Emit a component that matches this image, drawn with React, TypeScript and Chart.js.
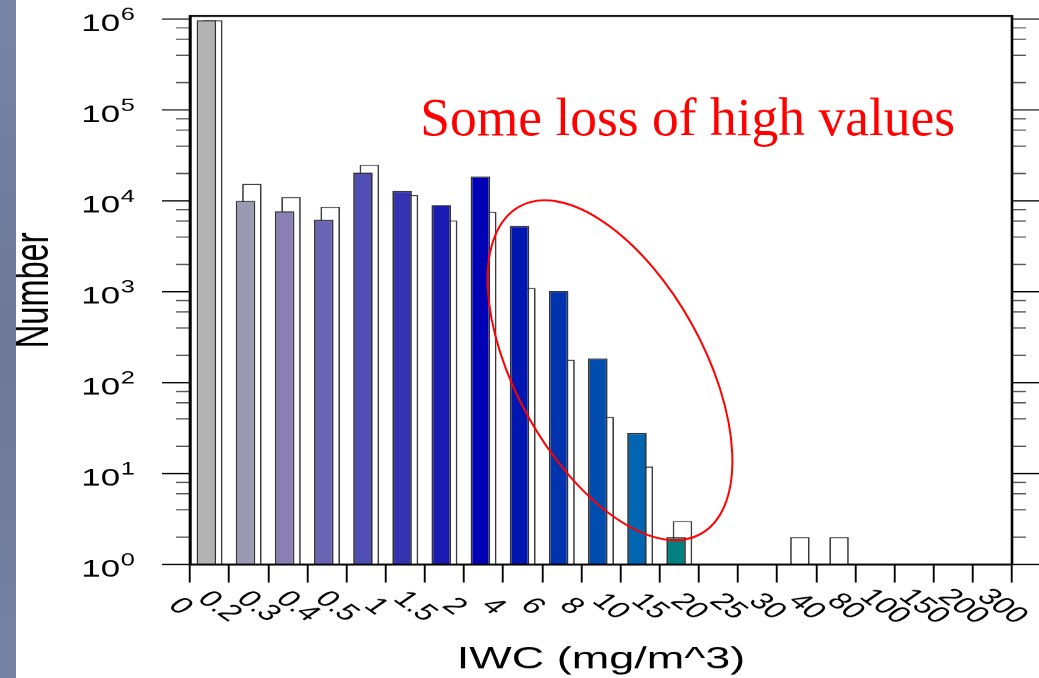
import React, { useEffect, useRef } from 'react';
import { Chart, registerables } from 'chart.js';

Chart.register(...registerables);

// ---------- data ----------
const binEdges = ['0', '0.2', '0.3', '0.4', '0.5', '1', '1.5', '2', '4', '6', '8', '10', '15', '20', '25', '30', '40', '80', '100', '150', '200', '300'];
const categories = binEdges.slice(0, -1).map((e, i) => `${e}-${binEdges[i + 1]}`);

const colouredCounts = [9.7e5, 1.0e4, 7.7e3, 6.2e3, 2.05e4, 1.29e4, 9.0e3, 1.85e4, 5.3e3, 1.02e3, 185, 28, 2, null, null, null, null, null, null, null, null];
const whiteCounts = [9.7e5, 1.54e4, 1.1e4, 8.6e3, 2.5e4, 1.16e4, 6.1e3, 7.6e3, 1.1e3, 179, 42, 12, 3, null, null, 2, 2, null, null, null, null];

const colouredBarColors = ['#b3b3b3', '#9b99b3', '#8b80b4', '#6b66b3', '#4e4eb4', '#3434b0', '#1a1ab0', '#0000b4', '#0016b0', '#0033ae', '#004caf', '#0066b2', '#008080', '#008080', '#008080', '#008080', '#008080', '#008080', '#008080', '#008080', '#008080'];

const yMajorExponents = [0, 1, 2, 3, 4, 5, 6];
const yMinorFactors = [2, 4, 6, 8];
const yTickValues: number[] = [];
yMajorExponents.forEach((e) => {
  yTickValues.push(Math.pow(10, e));
  if (e < 6) yMinorFactors.forEach((f) => yTickValues.push(f * Math.pow(10, e)));
});

const annotationText = 'Some loss of high values';
const annotationTextAt = { bin: 5.88, value: 5.3e4 };
const ellipseAt = { bin: 10.73, value: 137 };

// ---------- layout ----------
const LOGICAL_W = 716;
const H = 678;
const S = 1039 / LOGICAL_W; // horizontal stretch of the picture
const FONT = '"Liberation Sans", Arial, Helvetica, sans-serif';

const isPow10 = (v: number) => {
  const l = Math.log10(v);
  return Math.abs(l - Math.round(l)) < 1e-9;
};

const overlayPlugin = {
  id: 'overlayPlugin',
  afterDraw(chart: any) {
    const { ctx, chartArea: ca, scales } = chart;
    const y = scales.y;
    const x = scales.x;
    ctx.save();
    // y tick marks on both sides + labels 10^n
    for (const t of y.ticks) {
      const py = y.getPixelForValue(t.value);
      const major = isPow10(t.value);
      const len = major ? 19.3 : 9.6;
      ctx.strokeStyle = major ? '#000' : '#555';
      ctx.lineWidth = 1.3;
      ctx.beginPath();
      ctx.moveTo(ca.left - len, py);
      ctx.lineTo(ca.left, py);
      ctx.moveTo(ca.right, py);
      ctx.lineTo(ca.right + len, py);
      ctx.stroke();
      if (major) {
        const exp = String(Math.round(Math.log10(t.value)));
        ctx.fillStyle = '#000';
        ctx.textBaseline = 'alphabetic';
        ctx.textAlign = 'right';
        ctx.font = `17.5px ${FONT}`;
        const expRight = ca.left - 38;
        ctx.fillText(exp, expRight, py + 1);
        const ew = ctx.measureText(exp).width;
        ctx.font = `24px ${FONT}`;
        ctx.fillText('10', expRight - ew - 0.5, py + 11.8);
      }
    }
    // frame
    ctx.strokeStyle = '#000';
    ctx.lineWidth = 1.8;
    ctx.strokeRect(ca.left, ca.top, ca.right - ca.left, ca.bottom - ca.top);
    // rotated x tick labels at the bin edges
    ctx.fillStyle = '#000';
    ctx.font = `23px ${FONT}`;
    ctx.textAlign = 'center';
    ctx.textBaseline = 'middle';
    binEdges.forEach((lab, i) => {
      const px = x.getPixelForValue(i - 0.5);
      ctx.save();
      ctx.translate(px - 6.9, ca.bottom + 42);
      ctx.rotate(Math.PI / 4);
      ctx.fillText(lab, 0, 0);
      ctx.restore();
    });
    // annotation overlay, undistorted
    ctx.save();
    ctx.scale(1 / S, 1);
    const cx = x.getPixelForValue(ellipseAt.bin - 0.5) * S;
    const cy = y.getPixelForValue(ellipseAt.value);
    ctx.strokeStyle = '#ff0000';
    ctx.lineWidth = 2;
    ctx.beginPath();
    ctx.ellipse(cx, cy, 187, 94, (61 * Math.PI) / 180, 0, 2 * Math.PI);
    ctx.stroke();
    ctx.fillStyle = '#ff0000';
    ctx.font = '53.5px "Liberation Serif", "Times New Roman", serif';
    ctx.textAlign = 'left';
    ctx.textBaseline = 'alphabetic';
    ctx.fillText(annotationText, x.getPixelForValue(annotationTextAt.bin - 0.5) * S, y.getPixelForValue(annotationTextAt.value));
    ctx.restore();
    ctx.restore();
  },
};

export default function App() {
  const ref = useRef<HTMLCanvasElement>(null);
  useEffect(() => {
    const chart = new Chart(ref.current as HTMLCanvasElement, {
      type: 'bar',
      data: {
        labels: categories,
        datasets: [
          {
            label: 'Coloured',
            data: colouredCounts as any,
            backgroundColor: colouredBarColors,
            borderColor: '#333',
            borderWidth: 1.2,
            categoryPercentage: 0.326,
            barPercentage: 3.07,
          },
          {
            label: 'White',
            data: whiteCounts as any,
            backgroundColor: '#ffffff',
            borderColor: '#3c3c3c',
            borderWidth: 1.2,
            categoryPercentage: 0.326,
            barPercentage: 3.07,
          },
        ],
      },
      options: {
        animation: false,
        responsive: false,
        devicePixelRatio: S,
        layout: { padding: { left: 0, right: LOGICAL_W - 1012 / S, top: 16, bottom: 0 } },
        plugins: { legend: { display: false }, tooltip: { enabled: false }, title: { display: false } },
        scales: {
          x: {
            type: 'category',
            position: 'bottom',
            offset: true,
            afterFit: (s: any) => {
              s.height = H - 564;
            },
            grid: { offset: true, drawOnChartArea: false, drawTicks: true, tickLength: 18, tickColor: '#000', tickWidth: 1.3 },
            border: { display: true, color: '#000', width: 1.8 },
            ticks: { display: false },
            title: { display: true, text: 'IWC (mg/m^3)', color: '#000', font: { family: FONT, size: 31 }, padding: { top: 0, bottom: 0.5 } },
          },
          y: {
            type: 'logarithmic',
            position: 'left',
            min: 1,
            max: 1.08e6,
            afterBuildTicks: (s: any) => {
              s.ticks = yTickValues.map((v) => ({ value: v }));
            },
            afterFit: (s: any) => {
              s.width = 190 / S;
            },
            grid: { drawOnChartArea: false, drawTicks: false },
            border: { display: true, color: '#000', width: 1.8 },
            ticks: { display: false, autoSkip: false },
            title: { display: true, text: 'Number', color: '#000', font: { family: FONT, size: 32.5 }, padding: { top: 4.5, bottom: 0 } },
          },
        },
      } as any,
      plugins: [overlayPlugin],
    });
    return () => chart.destroy();
  }, []);

  return (
    <div style={{ position: 'absolute', left: 0, top: 0, width: 1039, height: H, background: '#fff', overflow: 'hidden' }}>
      <div style={{ position: 'absolute', left: 0, top: 0, width: LOGICAL_W, height: H, transform: `scaleX(${S})`, transformOrigin: '0 0' }}>
        <canvas ref={ref} width={LOGICAL_W} height={H} style={{ width: LOGICAL_W, height: H, display: 'block' }} />
      </div>
      <div style={{ position: 'absolute', left: 0, top: 0, width: 16, height: H, background: 'linear-gradient(#7784a6, #6d7898 50%, #7682a3)' }} />
    </div>
  );
}
